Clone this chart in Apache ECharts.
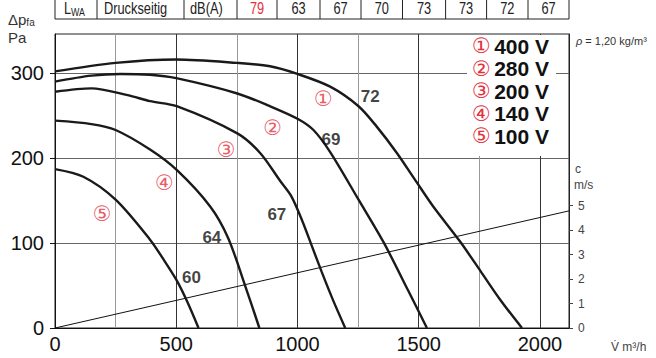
<!DOCTYPE html>
<html><head><meta charset="utf-8">
<script src="https://cdn.jsdelivr.net/npm/echarts@6/dist/echarts.min.js"></script>
<style>html,body{margin:0;padding:0;background:#fff;}#c{width:656px;height:358px;}</style>
</head><body><div id="c"></div>
<script>
// ---- data ----
const flowTicks = [0, 500, 1000, 1500, 2000];          // V m³/h
const pressureTicks = [0, 100, 200, 300];              // Pa
const velocityTicks = [0, 1, 2, 3, 4, 5];              // m/s
const voltages = ['400 V', '280 V', '200 V', '140 V', '100 V'];
const circled = ['①', '②', '③', '④', '⑤'];
const curve400 = [[0,302],[250,312],[500,316],[750,312],[887,308],[1000,299],[1135,284],[1252,261],[1327,237],[1410,206],[1493,171],[1560,143],[1670,102],[1755,67],[1837,33],[1926,0]];
const curve280 = [[0,290],[150,297],[270,299],[392,298],[500,294],[752,276],[887,261],[1002,246],[1066,233],[1135,207],[1252,151],[1355,101],[1455,45],[1534,0]];
const curve200 = [[0,278],[150,282],[300,274],[392,267],[502,261],[752,229],[846,206],[929,173],[975,155],[1020,126],[1060,96],[1100,66],[1145,34],[1197,0]];
const curve140 = [[0,244],[150,240],[250,233],[392,210],[502,186],[640,143],[714,106],[784,50],[843,0]];
const curve100 = [[0,187],[117,178],[250,151],[392,104],[447,81],[502,56],[547,30],[592,0]];
const velocityLine = [[0,0],[2120,4.78]];
const dbLabels = ['72', '69', '67', '64', '60'];
const numLabelPos = [[1107,269],[898,235],[706,210],[451,171],[195,134]];
const dbLabelPos = [[1300,273],[1138,222],[915,134],[647,106],[563,60]];
const tableHead = ['L', 'Druckseitig', 'dB(A)'];
const tableValues = ['79', '63', '67', '70', '73', '73', '72', '67'];

// ---- chart ----
const curves = [curve400, curve280, curve200, curve140, curve100];
const RED = '#e3313c';
const FONT = '"Liberation Sans", Arial, Helvetica, sans-serif';
const CIRC = '"DejaVu Sans", sans-serif';

const chart = echarts.init(document.getElementById('c'), null, {renderer: 'svg'});

const series = curves.map((d, i) => ({
  type: 'line', name: voltages[i], data: d, smooth: 0.3,
  showSymbol: false, silent: true, z: 3,
  lineStyle: {color: '#1a1a1a', width: 2.4}, itemStyle: {color: '#1a1a1a'}
}));
series.push({
  type: 'line', name: 'c', yAxisIndex: 1, data: velocityLine, showSymbol: false, silent: true,
  lineStyle: {color: '#111', width: 1}, z: 2
});
series.push({
  type: 'scatter', name: 'num', symbolSize: 0, silent: true, z: 5,
  data: numLabelPos.map((p, i) => ({value: p, name: circled[i]})),
  label: {show: true, position: 'inside', formatter: p => p.name, color: RED,
          fontFamily: CIRC, fontSize: 21}
});
series.push({
  type: 'scatter', name: 'db', symbolSize: 0, silent: true, z: 5,
  data: dbLabelPos.map((p, i) => ({value: p, name: dbLabels[i]})),
  label: {show: true, position: 'inside', formatter: p => p.name, color: '#111',
          fontFamily: FONT, fontWeight: 'bold', fontSize: 17}
});

// table at top
const cellEdges = [55, 97, 184, 237, 277, 320, 361, 402.5, 445.6, 486.6, 528, 569];
const graphics = [];
graphics.push({type: 'rect', shape: {x: 55, y: -2, width: 514, height: 21}, style: {fill: '#fff', stroke: '#222', lineWidth: 1}, z: 10});
for (let i = 1; i < cellEdges.length - 1; i++) {
  graphics.push({type: 'line', shape: {x1: cellEdges[i], y1: -2, x2: cellEdges[i], y2: 19}, style: {stroke: '#222', lineWidth: 1}, z: 11});
}
const SX = 0.8;
graphics.push({type: 'text', x: 64, y: 8.5, scaleX: SX, z: 12, style: {text: '{a|' + tableHead[0] + '}{s|WA}', rich: {a: {fontSize: 16, fontFamily: FONT, fill: '#222'}, s: {fontSize: 11, fontFamily: FONT, fill: '#222', padding: [8, 0, 0, 0]}}, verticalAlign: 'middle'}});
graphics.push({type: 'text', x: 104, y: 8.5, scaleX: SX, z: 12, style: {text: tableHead[1], fontSize: 16, fontFamily: FONT, fill: '#222', verticalAlign: 'middle'}});
graphics.push({type: 'text', x: 190, y: 8.5, scaleX: SX, z: 12, style: {text: tableHead[2], fontSize: 16, fontFamily: FONT, fill: '#222', verticalAlign: 'middle'}});
tableValues.forEach((v, i) => {
  graphics.push({type: 'text', x: (cellEdges[i + 3] + cellEdges[i + 4]) / 2, y: 8.5, scaleX: SX, z: 12,
    style: {text: v, fontSize: 16, fontFamily: FONT, fill: i === 0 ? RED : '#222', align: 'center', verticalAlign: 'middle'}});
});
// axis names & notes
graphics.push({type: 'text', x: 8, y: 19, z: 12, style: {text: '{a|Δp}{s|fa}', rich: {a: {fontSize: 15, fontFamily: FONT, fill: '#333'}, s: {fontSize: 10, fontFamily: FONT, fill: '#333', padding: [6, 0, 0, 0]}}, verticalAlign: 'middle'}});
graphics.push({type: 'text', x: 8, y: 37, z: 12, style: {text: 'Pa', fontSize: 15, fontFamily: FONT, fill: '#333', verticalAlign: 'middle'}});
graphics.push({type: 'text', x: 576, y: 41, z: 12, style: {text: '{i|ρ} = 1,20 kg/m³', fontSize: 11, fontFamily: FONT, fill: '#333', verticalAlign: 'middle', rich: {i: {fontStyle: 'italic', fontSize: 11, fontFamily: FONT, fill: '#333'}}}});
graphics.push({type: 'text', x: 575, y: 169, z: 12, style: {text: 'c', fontSize: 12, fontFamily: FONT, fill: '#444', verticalAlign: 'middle'}});
graphics.push({type: 'text', x: 574, y: 185, z: 12, style: {text: 'm/s', fontSize: 12, fontFamily: FONT, fill: '#444', verticalAlign: 'middle'}});
graphics.push({type: 'text', x: 611, y: 347, z: 12, style: {text: 'V̇ m³/h', fontSize: 12, fontFamily: FONT, fill: '#444', verticalAlign: 'middle'}});

chart.setOption({
  animation: false,
  backgroundColor: '#fff',
  grid: {left: 55, right: 87, top: 34, bottom: 30, show: true, borderColor: '#222', borderWidth: 1, outerBoundsMode: 'none', containLabel: false},
  legend: {
    data: voltages, orient: 'vertical', left: 467, top: 35, icon: 'none', itemWidth: 0, itemHeight: 10,
    itemGap: 0.5, selectedMode: false, backgroundColor: '#fff', padding: [0, 7, 9, 0], z: 8,
    formatter: name => '{n|' + circled[voltages.indexOf(name)] + '} {t|' + name + '}',
    textStyle: {lineHeight: 22, rich: {
      n: {color: RED, fontFamily: CIRC, fontSize: 21, lineHeight: 22},
      t: {color: '#111', fontFamily: FONT, fontWeight: 'bold', fontSize: 21, lineHeight: 22}
    }}
  },
  xAxis: {
    type: 'value', min: 0, max: 2120, interval: 250,
    axisLine: {show: true, onZero: false, lineStyle: {color: '#111', width: 1}},
    axisTick: {show: false},
    axisLabel: {customValues: flowTicks, formatter: v => String(v), color: '#111', fontFamily: FONT, fontSize: 20, margin: 6},
    splitLine: {show: true, lineStyle: {color: ['#333', '#999'], width: 1}}
  },
  yAxis: [{
    type: 'value', min: 0, max: 346, interval: 50,
    axisLine: {show: true, onZero: false, lineStyle: {color: '#111', width: 1}},
    axisTick: {show: true, customValues: pressureTicks, length: 5, lineStyle: {color: '#111'}},
    axisLabel: {customValues: pressureTicks, formatter: v => String(v), color: '#111', fontFamily: FONT, fontSize: 20, margin: 11},
    splitLine: {show: true, lineStyle: {color: '#666', width: 1}}
  }, {
    type: 'value', min: 0, max: 12, interval: 1, position: 'right',
    axisLine: {show: true, onZero: false, lineStyle: {color: '#222', width: 1}},
    axisTick: {show: true, customValues: velocityTicks, length: 4, lineStyle: {color: '#444'}},
    axisLabel: {customValues: velocityTicks, formatter: v => String(v), color: '#444', fontFamily: FONT, fontSize: 12, margin: 9},
    splitLine: {show: false}
  }],
  graphic: graphics,
  series: series
});
</script></body></html>
